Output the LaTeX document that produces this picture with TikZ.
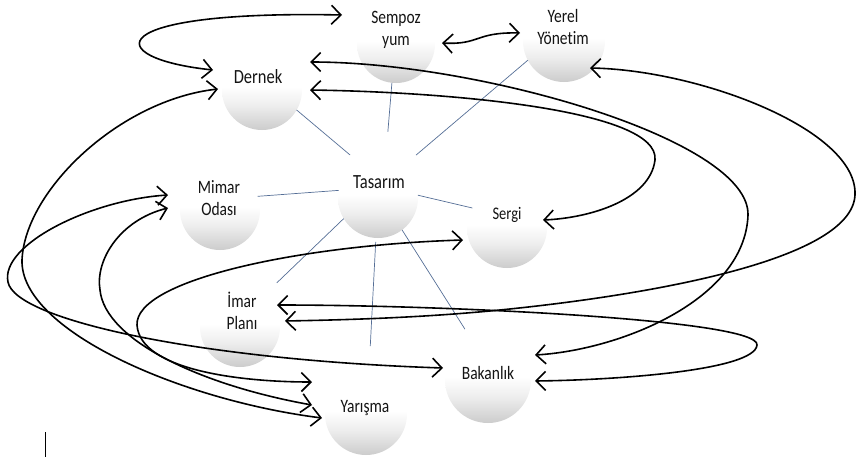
\documentclass[tikz,border=0pt]{standalone}
\usepackage{fontspec}
\setmainfont{Carlito}[Ligatures=NoCommon]
\usetikzlibrary{arrows.meta,calc}
\definecolor{spokeblue}{RGB}{85,110,150}
\pgfdeclareverticalshading{ballshade}{100bp}{color(0bp)=(black!20); color(25bp)=(black!20); color(40bp)=(black!7); color(52bp)=(white); color(100bp)=(white)}
\newcommand{\tallbox}[1]{\scalebox{1}[1.22]{\begin{tabular}{@{}c@{}}#1\end{tabular}}}
\begin{document}
\begin{tikzpicture}[x=1pt,y=-1pt,
  ball/.style={circle, minimum size=80pt, inner sep=0pt, outer sep=0pt, shading=ballshade},
  lbl/.style={font=\fontsize{15.5}{18}\selectfont, text=black!92, inner sep=0pt},
  spoke/.style={draw=spokeblue, line width=0.7pt},
  link/.style={draw=black, line width=1.6pt, line cap=round,
    {Straight Barb[length=9.5pt,width=19pt]}-{Straight Barb[length=9.5pt,width=19pt]}}]
\useasboundingbox (0,0) rectangle (857,463);
% balls
\node[ball, minimum size=78pt] (sempoz) at (396,44) {};
\node[ball, minimum size=82pt] (yerel) at (564,41) {};
\node[ball] (dernek) at (262,90) {};
\node[ball] (mimar) at (220,210) {};
\node[ball] (tasarim) at (378,198) {};
\node[ball] (sergi) at (507,228) {};
\node[ball] (imar) at (240,327) {};
\node[ball, minimum size=86pt] (bakanlik) at (488,380) {};
\node[ball, minimum size=82pt] (yarisma) at (366,414) {};
% spokes
\draw[spoke, shorten >=12pt] (dernek.-30) -- (tasarim.118);
\draw[spoke, shorten >=27pt] (sempoz.-96) -- (tasarim.79);
\draw[spoke, shorten >=17.6pt] (yerel.-152) -- (tasarim.52);
\draw[spoke] (mimar.20) -- (tasarim.169);
\draw[spoke] (tasarim.4) -- (sergi.150);
\draw[spoke, shorten >=17.6pt] (tasarim.211) -- (imar.53);
\draw[spoke, shorten <=4pt, shorten >=27pt] (tasarim.-93) -- (yarisma.86);
\draw[spoke, shorten >=13pt] (tasarim.-53) -- (bakanlik.112);
% labels
\node[lbl] (sempozT) at (396,30) {\tallbox{Sempoz\\yum}};
\node[lbl] (yerelT) at (563,29) {\tallbox{Yerel\\Yönetim}};
\node[lbl, font=\fontsize{16.5}{19}\selectfont] (dernekT) at (258,79) {\tallbox{Dernek}};
\node[lbl] (mimarT) at (219,200) {\tallbox{Mimar\\Odası}};
\node[lbl, font=\fontsize{16.5}{19}\selectfont] (tasarimT) at (379,184) {\tallbox{Tasarım}};
\node[lbl, font=\fontsize{14.5}{17}\selectfont] (sergiT) at (507,215) {\tallbox{Sergi}};
\node[lbl] (imarT) at (242,314) {\tallbox{İmar\\Planı}};
\node[lbl] (bakanlikT) at (488,375) {\tallbox{Bakanlık}};
\node[lbl] (yarismaT) at (365,408) {\tallbox{Yarışma}};
% arrow end points
\coordinate (c1a) at ($(dernek)+(-49,-20)$);
\coordinate (c1b) at ($(sempoz)+(-54,-29)$);
\coordinate (c2a) at ($(sempoz)+(46,-1)$);
\coordinate (c2b) at ($(yerel)+(-44,-8)$);
\coordinate (c3a) at ($(dernek)+(48,0)$);
\coordinate (c3b) at ($(sergi)+(36,-8)$);
\coordinate (c4a) at ($(dernek)+(48,-28)$);
\coordinate (c4b) at ($(bakanlik)+(47,-25)$);
\coordinate (c5a) at ($(yerel)+(26,27)$);
\coordinate (c5b) at ($(imar)+(45,-6)$);
\coordinate (c6a) at ($(imar)+(37,-22)$);
\coordinate (c6b) at ($(bakanlik)+(47,1)$);
\coordinate (c7a) at ($(dernek)+(-44,-1)$);
\coordinate (c7b) at ($(yarisma)+(-44,4)$);
\coordinate (c8a) at ($(mimar)+(-52,-15)$);
\coordinate (c8b) at ($(bakanlik)+(-45,-12)$);
\coordinate (c9a) at ($(mimar)+(-52,-2)$);
\coordinate (c9b) at ($(yarisma)+(-54,-9)$);
\coordinate (c10a) at ($(sergi)+(-44,12)$);
\coordinate (c10b) at ($(yarisma)+(-54,-32)$);
% curved double arrows
\draw[link] (c1a) .. controls (100,58) and (100,10) .. (c1b);
\draw[link] (c2a) .. controls (480,45) and (475,32) .. (c2b);
\draw[link] (c3a) .. controls (450,92) and (660,110) .. (655,160) .. controls (650,200) and (590,218) .. (c3b);
\draw[link] (c4a) .. controls (480,62) and (750,140) .. (748,215) .. controls (745,300) and (620,350) .. (c4b);
\draw[link] (c5a) .. controls (700,70) and (858,130) .. (855,195) .. controls (852,260) and (650,295) .. (500,310) .. controls (420,318) and (340,320) .. (c5b);
\draw[link] (c6a) .. controls (450,305) and (760,320) .. (757,345) .. controls (755,370) and (620,380) .. (c6b);
\draw[link] (c7a) .. controls (120,100) and (25,190) .. (22,260) .. controls (20,330) and (180,400) .. (c7b);
\draw[link] (c8a) .. controls (90,200) and (0,245) .. (8,282) .. controls (15,320) and (200,360) .. (c8b);
\draw[link] (c9a) .. controls (120,220) and (95,260) .. (100,290) .. controls (105,340) and (200,385) .. (c9b);
\draw[link] (c10a) .. controls (300,245) and (135,280) .. (137,325) .. controls (140,370) and (240,382) .. (c10b);
% stray mark
\draw[line width=0.8pt] (45,432) -- (45,457);
\end{tikzpicture}
\end{document}
